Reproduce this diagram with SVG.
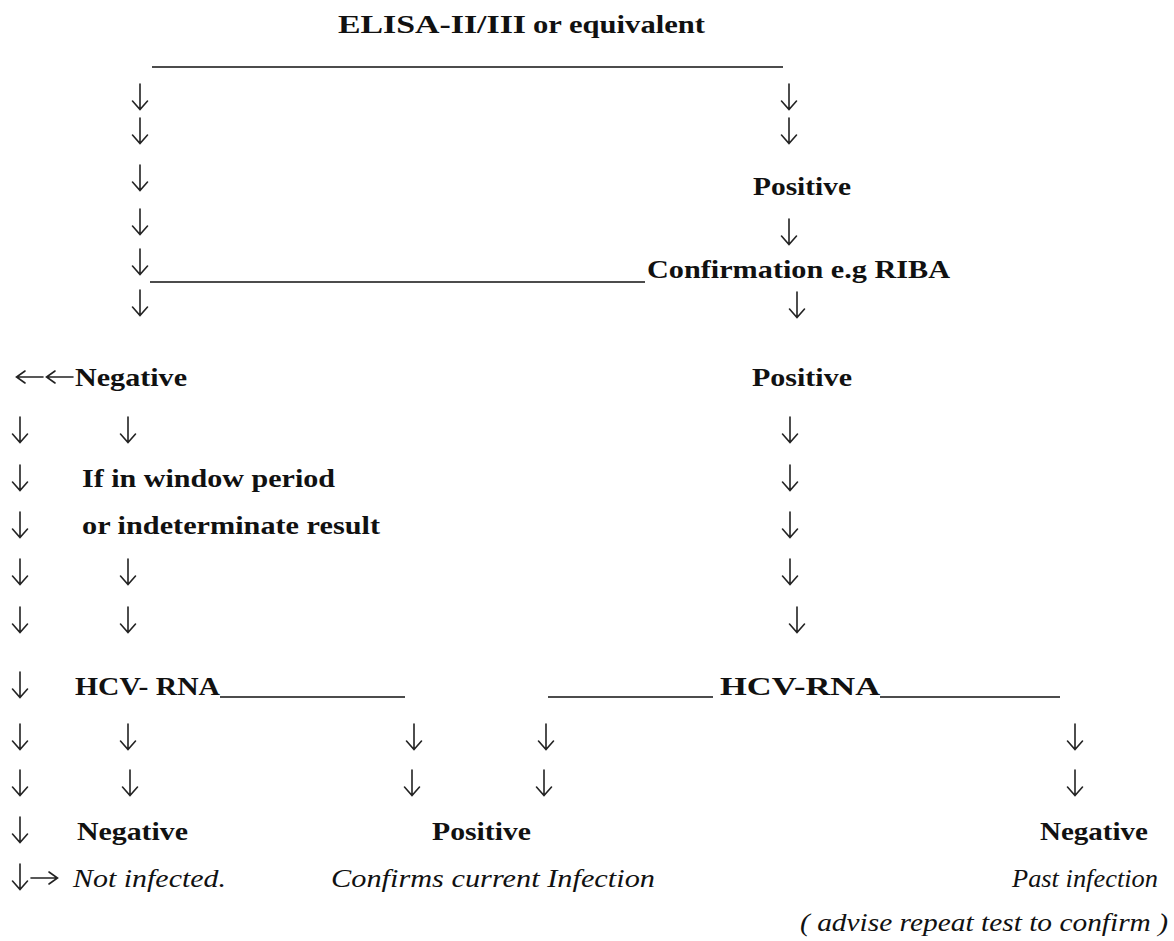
<svg xmlns="http://www.w3.org/2000/svg" width="1174" height="941" viewBox="0 0 1174 941">
<style>
.b{font-family:"Liberation Serif","Times New Roman",serif;font-weight:bold;font-size:26px;fill:#111}
.i{font-family:"Liberation Serif","Times New Roman",serif;font-style:italic;font-size:26px;fill:#111}
.l{stroke:#111;stroke-width:1.5;fill:none}
.ar{stroke:#222;stroke-width:1.6;fill:none;stroke-linecap:round;stroke-linejoin:miter}
</style>
<defs>
<path id="dn" class="ar" d="M0,-13 V12 M-7.5,4 L0,12.5 L7.5,4"/>
<path id="lt" class="ar" d="M13,0 H-13 M-5,-6 L-13.5,0 L-5,6"/>
<path id="rt" class="ar" d="M-13,0 H13 M5,-6 L13.5,0 L5,6"/>
</defs>
<rect width="1174" height="941" fill="#fff"/>
<g id="title">
<text class="b" x="338" y="33" font-size="30" textLength="188" lengthAdjust="spacingAndGlyphs">ELISA-II/III</text>
<text class="b" x="533" y="33" font-size="22" textLength="172" lengthAdjust="spacingAndGlyphs">or equivalent</text>
</g>
<g id="positive1"><text class="b" x="753" y="195" textLength="98" lengthAdjust="spacingAndGlyphs">Positive</text></g>
<g id="confirmation"><text class="b" x="647" y="278" textLength="303" lengthAdjust="spacingAndGlyphs">Confirmation e.g RIBA</text></g>
<g id="negative1"><text class="b" x="75" y="386" textLength="112" lengthAdjust="spacingAndGlyphs">Negative</text></g>
<g id="positive2"><text class="b" x="752" y="386" textLength="100" lengthAdjust="spacingAndGlyphs">Positive</text></g>
<g id="window">
<text class="b" x="82" y="487" textLength="253" lengthAdjust="spacingAndGlyphs">If in window period</text>
<text class="b" x="82" y="534" textLength="298" lengthAdjust="spacingAndGlyphs">or indeterminate result</text>
</g>
<g id="hcv1"><text class="b" x="75" y="695" textLength="145" lengthAdjust="spacingAndGlyphs">HCV- RNA</text></g>
<g id="hcv2"><text class="b" x="720" y="695" textLength="160" lengthAdjust="spacingAndGlyphs">HCV-RNA</text></g>
<g id="negative2">
<text class="b" x="77" y="840" textLength="111" lengthAdjust="spacingAndGlyphs">Negative</text>
<text class="i" x="73" y="887" textLength="153" lengthAdjust="spacingAndGlyphs">Not infected.</text>
</g>
<g id="positive3">
<text class="b" x="432" y="840" textLength="99" lengthAdjust="spacingAndGlyphs">Positive</text>
<text class="i" x="331" y="887" textLength="324" lengthAdjust="spacingAndGlyphs">Confirms current Infection</text>
</g>
<g id="negative3">
<text class="b" x="1040" y="840" textLength="108" lengthAdjust="spacingAndGlyphs">Negative</text>
<text class="i" x="1012" y="887" textLength="146" lengthAdjust="spacingAndGlyphs">Past infection</text>
<text class="i" x="800" y="931" textLength="368" lengthAdjust="spacingAndGlyphs">( advise repeat test to confirm )</text>
</g>
<g id="connectors">
<line class="l" x1="152" y1="67" x2="783" y2="67"/>
<line class="l" x1="150" y1="282" x2="645" y2="282"/>
<line class="l" x1="220" y1="697" x2="405" y2="697"/>
<line class="l" x1="548" y1="697" x2="713" y2="697"/>
<line class="l" x1="880" y1="697" x2="1060" y2="697"/>
<use href="#lt" x="30" y="377"/><use href="#lt" x="60" y="377"/>
<use href="#dn" x="20" y="877"/><use href="#rt" x="44" y="878"/>
<use href="#dn" x="140" y="97"/><use href="#dn" x="140" y="131"/><use href="#dn" x="140" y="178"/>
<use href="#dn" x="140" y="222"/><use href="#dn" x="140" y="262"/><use href="#dn" x="140" y="303"/>
<use href="#dn" x="789" y="97"/><use href="#dn" x="789" y="131"/><use href="#dn" x="789" y="232"/>
<use href="#dn" x="797" y="305"/>
<use href="#dn" x="20" y="430"/><use href="#dn" x="20" y="478"/><use href="#dn" x="20" y="525"/>
<use href="#dn" x="20" y="572"/><use href="#dn" x="20" y="620"/><use href="#dn" x="20" y="685"/>
<use href="#dn" x="20" y="737"/><use href="#dn" x="20" y="783"/><use href="#dn" x="20" y="830"/>
<use href="#dn" x="128" y="430"/><use href="#dn" x="128" y="572"/><use href="#dn" x="128" y="620"/>
<use href="#dn" x="128" y="737"/><use href="#dn" x="130" y="783"/>
<use href="#dn" x="790" y="430"/><use href="#dn" x="790" y="478"/><use href="#dn" x="790" y="525"/>
<use href="#dn" x="790" y="572"/><use href="#dn" x="797" y="620"/>
<use href="#dn" x="414" y="737"/><use href="#dn" x="412" y="783"/>
<use href="#dn" x="546" y="737"/><use href="#dn" x="544" y="783"/>
<use href="#dn" x="1075" y="737"/><use href="#dn" x="1075" y="783"/>
</g>
</svg>
